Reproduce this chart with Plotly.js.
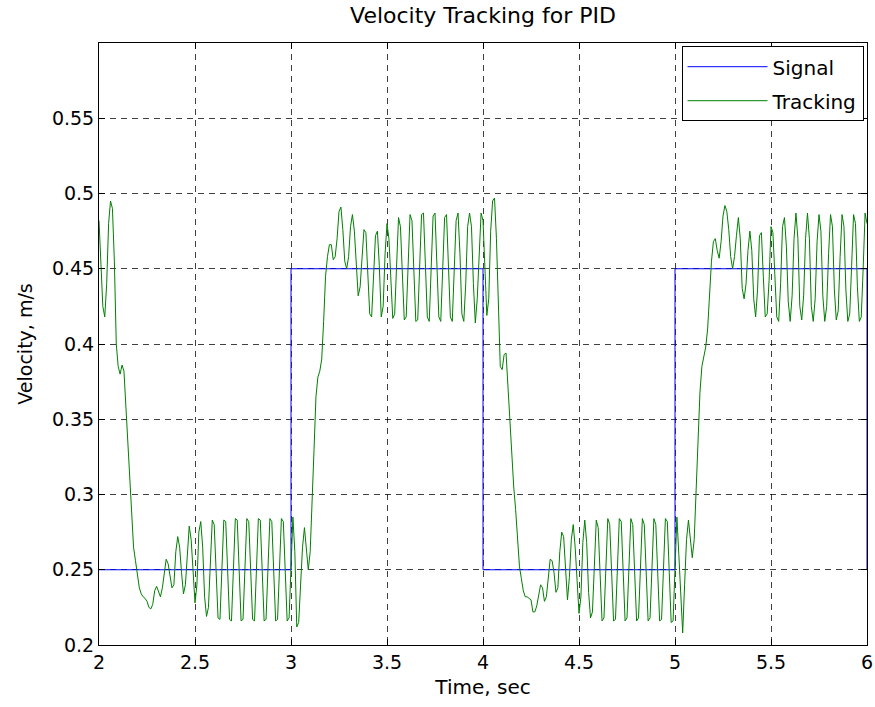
<!DOCTYPE html>
<html>
<head>
<meta charset="utf-8">
<script src="https://cdn.plot.ly/plotly-3.0.1.min.js"></script>
<style>
  html, body { margin: 0; padding: 0; background: #ffffff; }
  #chart { width: 875px; height: 707px; }
</style>
</head>
<body>
<div id="chart"></div>
<script>
// ---- data ----
const signalTime = [2, 3, 4, 5, 6];
const signalValue = [0.25, 0.45, 0.25, 0.45, 0.25];

const trackingStart = 2.0;   // s
const trackingStep = 0.01;   // s
const trackingValue = [
  0.482, 0.455, 0.425, 0.418, 0.440, 0.480, 0.495, 0.490, 0.455, 0.400,
  0.385, 0.380, 0.386, 0.382, 0.360, 0.333, 0.308, 0.286, 0.265, 0.256,
  0.247, 0.238, 0.234, 0.232, 0.231, 0.229, 0.225, 0.224, 0.227, 0.236,
  0.239, 0.236, 0.232, 0.238, 0.246, 0.257, 0.254, 0.247, 0.238, 0.240,
  0.262, 0.272, 0.265, 0.248, 0.234, 0.240, 0.262, 0.279, 0.270, 0.250,
  0.228, 0.240, 0.275, 0.282, 0.265, 0.232, 0.219, 0.225, 0.258, 0.283,
  0.280, 0.248, 0.218, 0.217, 0.250, 0.283, 0.282, 0.250, 0.217, 0.216,
  0.248, 0.284, 0.283, 0.250, 0.216, 0.217, 0.252, 0.284, 0.282, 0.248,
  0.217, 0.216, 0.250, 0.284, 0.283, 0.250, 0.216, 0.217, 0.252, 0.284,
  0.282, 0.248, 0.216, 0.217, 0.252, 0.284, 0.282, 0.248, 0.216, 0.218,
  0.252, 0.285, 0.262, 0.212, 0.215, 0.242, 0.265, 0.278, 0.262, 0.250,
  0.262, 0.292, 0.330, 0.365, 0.378, 0.382, 0.390, 0.415, 0.445, 0.458,
  0.466, 0.466, 0.456, 0.458, 0.470, 0.488, 0.491, 0.476, 0.455, 0.450,
  0.458, 0.478, 0.486, 0.475, 0.452, 0.432, 0.438, 0.460, 0.476, 0.474,
  0.450, 0.420, 0.418, 0.449, 0.472, 0.475, 0.452, 0.418, 0.425, 0.460,
  0.480, 0.470, 0.440, 0.417, 0.420, 0.458, 0.484, 0.478, 0.445, 0.416,
  0.418, 0.452, 0.486, 0.482, 0.448, 0.415, 0.416, 0.450, 0.486, 0.487,
  0.455, 0.418, 0.415, 0.445, 0.485, 0.487, 0.455, 0.418, 0.415, 0.445,
  0.484, 0.486, 0.455, 0.418, 0.415, 0.448, 0.482, 0.487, 0.460, 0.420,
  0.415, 0.440, 0.478, 0.487, 0.478, 0.440, 0.414, 0.430, 0.462, 0.487,
  0.482, 0.450, 0.419, 0.430, 0.475, 0.495, 0.497, 0.470, 0.420, 0.385,
  0.383, 0.393, 0.394, 0.370, 0.352, 0.330, 0.305, 0.290, 0.268, 0.252,
  0.244, 0.236, 0.232, 0.232, 0.231, 0.230, 0.222, 0.222, 0.226, 0.234,
  0.240, 0.238, 0.229, 0.232, 0.246, 0.257, 0.256, 0.248, 0.235, 0.238,
  0.262, 0.275, 0.272, 0.248, 0.230, 0.245, 0.270, 0.280, 0.265, 0.243,
  0.221, 0.232, 0.268, 0.283, 0.268, 0.235, 0.218, 0.222, 0.258, 0.283,
  0.278, 0.245, 0.216, 0.218, 0.252, 0.284, 0.280, 0.248, 0.216, 0.217,
  0.250, 0.284, 0.282, 0.248, 0.216, 0.218, 0.252, 0.284, 0.280, 0.246,
  0.216, 0.218, 0.254, 0.284, 0.280, 0.246, 0.216, 0.218, 0.254, 0.284,
  0.280, 0.246, 0.216, 0.217, 0.250, 0.284, 0.282, 0.248, 0.215, 0.216,
  0.250, 0.285, 0.260, 0.232, 0.208, 0.240, 0.270, 0.283, 0.270, 0.258,
  0.270, 0.300, 0.335, 0.368, 0.385, 0.392, 0.398, 0.410, 0.432, 0.455,
  0.468, 0.470, 0.462, 0.457, 0.468, 0.485, 0.492, 0.488, 0.476, 0.458,
  0.450, 0.458, 0.472, 0.484, 0.470, 0.437, 0.430, 0.440, 0.462, 0.475,
  0.462, 0.430, 0.418, 0.436, 0.472, 0.474, 0.445, 0.418, 0.420, 0.442,
  0.478, 0.474, 0.446, 0.418, 0.415, 0.440, 0.478, 0.484, 0.465, 0.428,
  0.415, 0.432, 0.470, 0.487, 0.470, 0.425, 0.416, 0.432, 0.470, 0.487,
  0.470, 0.425, 0.415, 0.430, 0.468, 0.486, 0.475, 0.432, 0.415, 0.425,
  0.460, 0.486, 0.478, 0.436, 0.416, 0.422, 0.458, 0.486, 0.478, 0.436,
  0.415, 0.420, 0.452, 0.486, 0.480, 0.438, 0.415, 0.418, 0.450, 0.487,
  0.480
];

const xTickVals = [2, 2.5, 3, 3.5, 4, 4.5, 5, 5.5, 6];
const xTickText = ['2', '2.5', '3', '3.5', '4', '4.5', '5', '5.5', '6'];
const yTickVals = [0.2, 0.25, 0.3, 0.35, 0.4, 0.45, 0.5, 0.55];
const yTickText = ['0.2', '0.25', '0.3', '0.35', '0.4', '0.45', '0.5', '0.55'];

// ---- chart ----
const FONT = 'DejaVu Sans, Liberation Sans, Arial, sans-serif';

const traces = [
  {
    x: signalTime, y: signalValue, type: 'scatter', mode: 'lines',
    line: { color: '#0000ff', width: 1, shape: 'hv' },
    name: 'Signal', legendgroup: 'a'
  },
  {
    y: trackingValue, x0: trackingStart, dx: trackingStep,
    type: 'scatter', mode: 'lines',
    line: { color: '#008000', width: 1 },
    name: 'Tracking', legendgroup: 'b'
  }
];

const axisCommon = {
  showline: true, linecolor: '#000000', linewidth: 1, mirror: 'ticks',
  ticks: 'inside', ticklen: 6, tickcolor: '#000000', tickwidth: 1,
  showgrid: true, gridcolor: 'rgba(0,0,0,0.75)', gridwidth: 1, griddash: '6px,5px',
  zeroline: false, automargin: false,
  tickfont: { family: FONT, size: 19, color: '#000000' }
};

const layout = {
  width: 875, height: 707,
  margin: { l: 99, r: 8, t: 43, b: 62 },
  paper_bgcolor: '#ffffff', plot_bgcolor: '#ffffff',
  font: { family: FONT, size: 19, color: '#000000' },
  title: {
    text: 'Velocity Tracking for PID',
    font: { family: FONT, size: 22, color: '#000000' },
    x: 0.5, xref: 'paper', xanchor: 'center',
    y: 0.979, yref: 'container', yanchor: 'middle'
  },
  xaxis: Object.assign({}, axisCommon, {
    range: [2, 6], tickmode: 'array', tickvals: xTickVals, ticktext: xTickText,
    title: { text: 'Time, sec', font: { family: FONT, size: 20, color: '#000000' }, standoff: 8 }
  }),
  yaxis: Object.assign({}, axisCommon, {
    range: [0.2, 0.6], tickmode: 'array', tickvals: yTickVals, ticktext: yTickText,
    title: { text: 'Velocity, m/s', font: { family: FONT, size: 19, color: '#000000' }, standoff: 14 }
  }),
  showlegend: true,
  legend: {
    x: 0.9955, y: 0.9947, xanchor: 'right', yanchor: 'top',
    bgcolor: '#ffffff', bordercolor: '#000000', borderwidth: 1,
    font: { family: FONT, size: 20, color: '#000000' },
    tracegroupgap: 5, itemwidth: 80
  }
};

Plotly.newPlot('chart', traces, layout, { staticPlot: true, displayModeBar: false });
</script>
</body>
</html>
